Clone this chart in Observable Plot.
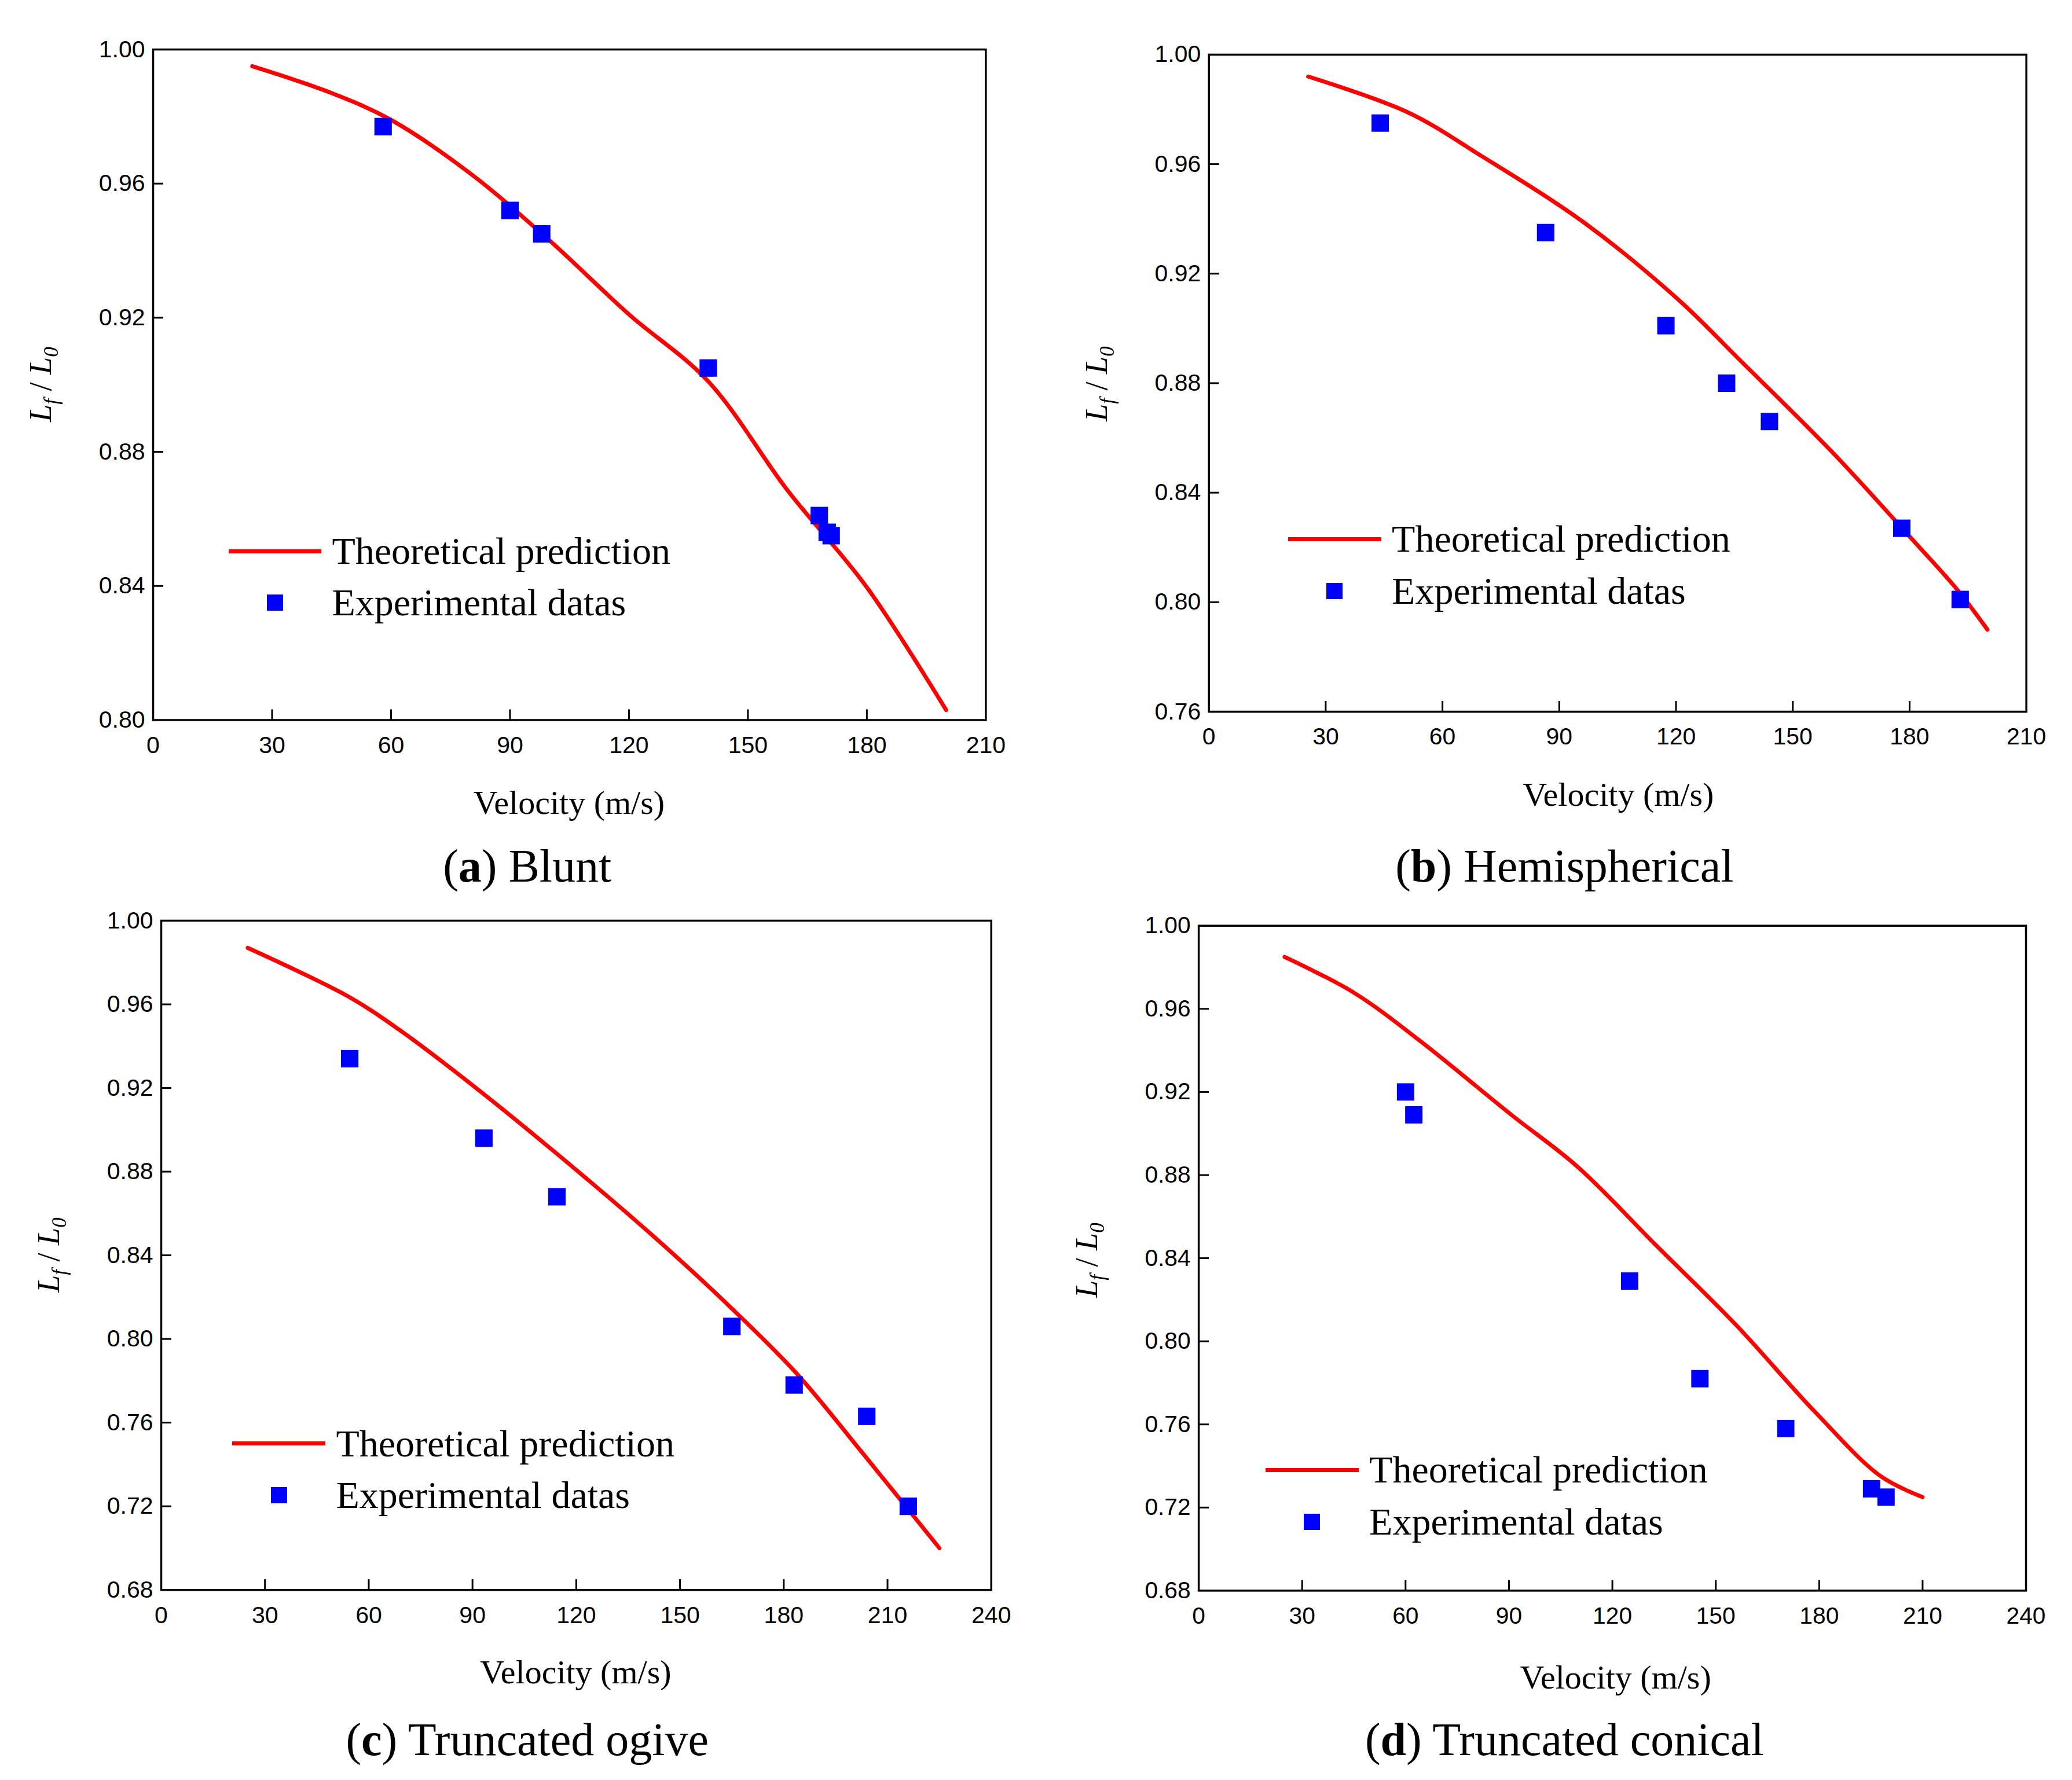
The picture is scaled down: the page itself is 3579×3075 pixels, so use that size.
<!DOCTYPE html>
<html><head><meta charset="utf-8">
<script src="https://cdn.jsdelivr.net/npm/d3@7"></script>
<script src="https://cdn.jsdelivr.net/npm/@observablehq/plot@0.6"></script>
<style>
body{margin:0;background:#fff;width:3579px;height:3075px;position:relative;overflow:hidden}
.abs{position:absolute;white-space:nowrap}
.serif{font-family:"Liberation Serif","DejaVu Serif",serif;color:#000}
</style></head><body>
<script>
// ---- data ----
const bluntLineX = [25,45,60,80,100,120,140,160,180,200];
const bluntLineY = [0.995,0.987,0.979,0.963,0.943,0.921,0.901,0.8685,0.8396,0.803];
const bluntExpX = [58,90,98,140,168,170,171];
const bluntExpY = [0.977,0.952,0.945,0.905,0.861,0.856,0.855];

const hemiLineX = [25.5,51,70,97,121,136,160,180,192,200];
const hemiLineY = [0.992,0.979,0.963,0.938,0.910,0.889,0.855,0.824,0.805,0.790];
const hemiExpX = [44,86.5,117.4,133,144,178,193];
const hemiExpY = [0.975,0.935,0.901,0.880,0.866,0.827,0.801];

const ogiveLineX = [25,53.8,68.7,91.8,114.8,141.7,164.7,184,203,225];
const ogiveLineY = [0.987,0.964,0.948,0.919,0.888,0.850,0.815,0.783,0.745,0.700];
const ogiveExpX = [54.5,93.3,114.4,165,183,204,216];
const ogiveExpY = [0.934,0.896,0.868,0.806,0.778,0.763,0.720];

const conicLineX = [24.9,44.8,63.9,90.7,109.9,132.8,155.8,178.8,197.9,210];
const conicLineY = [0.985,0.968,0.945,0.909,0.884,0.846,0.808,0.766,0.735,0.725];
const conicExpX = [60,62.4,125,145.4,170.3,195.2,199.4];
const conicExpY = [0.920,0.909,0.829,0.782,0.758,0.729,0.725];

const xTicks210 = [0,30,60,90,120,150,180,210];
const xTicks240 = [0,30,60,90,120,150,180,210,240];
const yTicksA = [0.80,0.84,0.88,0.92,0.96,1.00];
const yTicksB = [0.76,0.80,0.84,0.88,0.92,0.96,1.00];
const yTicksC = [0.68,0.72,0.76,0.80,0.84,0.88,0.92,0.96,1.00];

const legendLine = "Theoretical prediction";
const legendDots = "Experimental datas";
const xLabel = "Velocity (m/s)";

const S = 2.294;
const panels = [
 {lx:bluntLineX,ly:bluntLineY,ex:bluntExpX,ey:bluntExpY,xd:[0,210],xt:xTicks210,yd:[0.80,1.00],yt:yTicksA,
  f:[115,37,742,542],leg:[172,415],title:["a","Blunt"],tx:397,ty:652,lab:604},
 {lx:hemiLineX,ly:hemiLineY,ex:hemiExpX,ey:hemiExpY,xd:[0,210],xt:xTicks210,yd:[0.76,1.00],yt:yTicksB,
  f:[910,41,1527,537],leg:[970,406],title:["b","Hemispherical"],tx:1178,ty:652,lab:598},
 {lx:ogiveLineX,ly:ogiveLineY,ex:ogiveExpX,ey:ogiveExpY,xd:[0,240],xt:xTicks240,yd:[0.68,1.00],yt:yTicksC,
  f:[121,693,746,1197],leg:[175,1087],title:["c","Truncated ogive"],tx:397,ty:1310,lab:1259},
 {lx:conicLineX,ly:conicLineY,ex:conicExpX,ey:conicExpY,xd:[0,240],xt:xTicks240,yd:[0.68,1.00],yt:yTicksC,
  f:[903,697,1530,1201],leg:[953,1107],title:["d","Truncated conical"],tx:1178,ty:1310,lab:1263},
];

function add(html, style){const d=document.createElement("div");d.className="abs serif";d.innerHTML=html;Object.assign(d.style,style);document.body.appendChild(d);return d;}

for (const p of panels){
  const L=p.f[0]*S, T=p.f[1]*S, W=(p.f[2]-p.f[0])*S, H=(p.f[3]-p.f[1])*S;
  const mL=140, mT=40, mR=80, mB=100;
  const line = p.lx.map((x,i)=>({x,y:p.ly[i]}));
  const exp = p.ex.map((x,i)=>({x,y:p.ey[i]}));
  const ylo=p.yd[0], yspan=p.yd[1]-p.yd[0], xspan=p.xd[1]-p.xd[0];
  const tx = 18/H*yspan, ty = 18/W*xspan;
  const chart = Plot.plot({
    width: W+mL+mR, height: H+mT+mB,
    marginLeft:mL, marginRight:mR, marginTop:mT, marginBottom:mB,
    style:{fontFamily:"'Liberation Sans',Arial,sans-serif", fontSize:"41px", background:"transparent", overflow:"visible"},
    x:{domain:p.xd, ticks:p.xt, tickFormat:d=>String(d), label:null},
    y:{domain:p.yd, ticks:p.yt, tickFormat:d3.format(".2f"), label:null},
    marks:[
      Plot.axisX({ticks:p.xt, tickSize:0, tickPadding:28, tickFormat:d=>String(d), label:null}),
      Plot.axisY({ticks:p.yt, tickSize:0, tickPadding:14, tickFormat:d3.format(".2f"), label:null}),
      Plot.ruleX(p.xt.slice(1,-1), {x:d=>d, y1:ylo, y2:ylo+tx, stroke:"black", strokeWidth:3}),
      Plot.ruleY(p.yt.slice(1,-1), {y:d=>d, x1:p.xd[0], x2:p.xd[0]+ty, stroke:"black", strokeWidth:3}),
      Plot.line(line, {x:"x", y:"y", stroke:"#ff0000", strokeWidth:7, curve:"catmull-rom"}),
      Plot.dot(exp, {x:"x", y:"y", symbol:"square", r:17, fill:"#0000ff"}),
      Plot.frame({stroke:"black", strokeWidth:3.5})
    ]
  });
  const wrap=document.createElement("div");wrap.className="abs";
  wrap.style.left=(L-mL)+"px";wrap.style.top=(T-mT)+"px";
  wrap.appendChild(chart);document.body.appendChild(wrap);

  // x label
  add(xLabel,{left:(L+W/2)+"px", top:(p.lab*S)+"px", transform:"translate(-50%,-50%)", fontSize:"58px"});
  // y label
  add('<i>L<sub style="font-size:0.65em">f</sub></i> / <i>L<sub style="font-size:0.65em">0</sub></i>',
    {left:(L-190)+"px", top:(T+H/2)+"px", transform:"translate(-50%,-50%) rotate(-90deg)", fontSize:"54px"});
  // legend
  const lx=p.leg[0]*S, ly=p.leg[1]*S;
  const ln=document.createElement("div");ln.className="abs";
  Object.assign(ln.style,{left:lx+"px",top:(ly-3.5)+"px",width:(70*S)+"px",height:"7px",background:"#ff0000"});
  document.body.appendChild(ln);
  const sq=document.createElement("div");sq.className="abs";
  Object.assign(sq.style,{left:(lx+35*S-14)+"px",top:(ly+39*S-14)+"px",width:"28px",height:"28px",background:"#0000ff"});
  document.body.appendChild(sq);
  add(legendLine,{left:(lx+78*S)+"px",top:(ly)+"px",transform:"translateY(-50%)",fontSize:"66px"});
  add(legendDots,{left:(lx+78*S)+"px",top:(ly+39*S)+"px",transform:"translateY(-50%)",fontSize:"66px"});
  // title
  add('(<b>'+p.title[0]+'</b>) '+p.title[1],{left:(p.tx*S)+"px",top:(p.ty*S)+"px",transform:"translate(-50%,-50%)",fontSize:"80px"});
}
</script>
</body></html>
